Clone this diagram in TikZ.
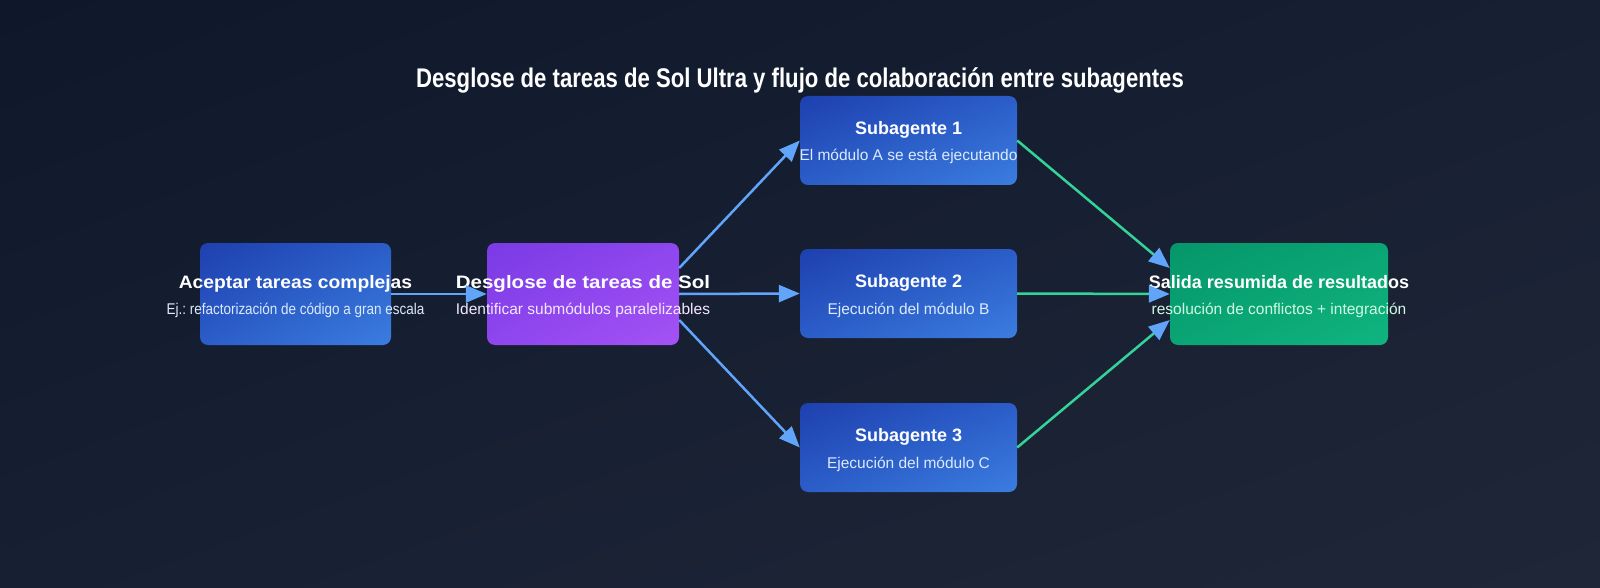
\documentclass[tikz,border=0pt]{standalone}
\usepackage{fontspec}
\setmainfont{Liberation Sans}
\newfontfamily\narrowfont{Liberation Sans}[FakeStretch=0.82]
\newfontfamily\semifont{Liberation Sans}[FakeStretch=0.87]
\newfontfamily\wideafont{Liberation Sans}[FakeStretch=1.07]
\newfontfamily\widebfont{Liberation Sans}[FakeStretch=1.14]
\usetikzlibrary{arrows.meta,shadings}
\frenchspacing

\definecolor{bgtl}{HTML}{0F172A}
\definecolor{bgmid}{HTML}{172033}
\definecolor{bgbr}{HTML}{1F2637}
\definecolor{bluetl}{HTML}{1E40AF}
\definecolor{bluemid}{HTML}{2B5DC8}
\definecolor{bluebr}{HTML}{3B7DE0}
\definecolor{purptl}{HTML}{7A3AE4}
\definecolor{purpmid}{HTML}{8E46EE}
\definecolor{purpbr}{HTML}{A452F4}
\definecolor{greentl}{HTML}{059669}
\definecolor{greenmid}{HTML}{0AA574}
\definecolor{greenbr}{HTML}{10B47E}
\definecolor{flowblue}{HTML}{60A5FA}
\definecolor{flowgreen}{HTML}{34D399}
\definecolor{subblue}{HTML}{DBEAFE}
\definecolor{subpurp}{HTML}{F3E8FF}
\definecolor{subgreen}{HTML}{D1FAE5}

\tikzset{
  card/.style={rounded corners=8pt, inner sep=0pt},
  bluecard/.style={card, upper left=bluetl, upper right=bluemid, lower left=bluemid, lower right=bluebr},
  purpcard/.style={card, upper left=purptl, upper right=purpmid, lower left=purpmid, lower right=purpbr},
  greencard/.style={card, upper left=greentl, upper right=greenmid, lower left=greenmid, lower right=greenbr},
  ttl/.style={anchor=base, text=white, font=\fontsize{18}{20}\selectfont\bfseries},
  sub/.style={anchor=base, text=subblue, font=\fontsize{15.5}{18}\selectfont},
  flow/.style={draw=flowblue, line width=2.5pt, -{Triangle[length=21pt,width=17pt]}},
  merge/.style={draw=flowgreen, line width=2.5pt, -{Triangle[length=21pt,width=17pt,color=flowblue]}}
}

\begin{document}
\begin{tikzpicture}[x=1pt, y=-1pt]
  \useasboundingbox (0,0) rectangle (1600,588);
  \shade[upper left=bgtl, upper right=bgmid, lower left=bgmid, lower right=bgbr] (0,0) rectangle (1600,588);

  \node[anchor=base, text=white, font=\fontsize{27}{30}\selectfont\narrowfont\bfseries] (title) at (800,88)
    {Desglose de tareas de Sol Ultra y flujo de colaboración entre subagentes};

  \node[bluecard, minimum width=191pt, minimum height=102pt] (task) at (295.5,294) {};
  \node[purpcard, minimum width=192pt, minimum height=102pt] (split) at (583,294) {};
  \node[bluecard, minimum width=217pt, minimum height=89pt] (agent1) at (908.5,140.5) {};
  \node[bluecard, minimum width=217pt, minimum height=89pt] (agent2) at (908.5,293.5) {};
  \node[bluecard, minimum width=217pt, minimum height=89pt] (agent3) at (908.5,447.5) {};
  \node[greencard, minimum width=218pt, minimum height=102pt] (result) at (1279,294) {};

  \node[ttl, font=\fontsize{18}{20}\selectfont\wideafont\bfseries] (taskT) at ([yshift=5.7pt]task.center) {Aceptar tareas complejas};
  \node[sub, font=\fontsize{15.5}{18}\selectfont\semifont] (taskS) at ([yshift=-20pt]task.center) {Ej.: refactorización de código a gran escala};
  \node[ttl, font=\fontsize{18}{20}\selectfont\widebfont\bfseries] (splitT) at ([yshift=5.7pt]split.center) {Desglose de tareas de Sol};
  \node[sub, text=subpurp] (splitS) at ([yshift=-20pt]split.center) {Identificar submódulos paralelizables};
  \node[ttl] (agent1T) at ([yshift=6pt]agent1.center) {Subagente 1};
  \node[sub] (agent1S) at ([yshift=-20.5pt]agent1.center) {El módulo A se está ejecutando};
  \node[ttl] (agent2T) at ([yshift=6pt]agent2.center) {Subagente 2};
  \node[sub] (agent2S) at ([yshift=-20.5pt]agent2.center) {Ejecución del módulo B};
  \node[ttl] (agent3T) at ([yshift=6pt]agent3.center) {Subagente 3};
  \node[sub] (agent3S) at ([yshift=-20.5pt]agent3.center) {Ejecución del módulo C};
  \node[ttl] (resultT) at ([yshift=5.7pt]result.center) {Salida resumida de resultados};
  \node[sub, text=subgreen] (resultS) at ([yshift=-20pt]result.center) {resolución de conflictos + integración};

  \draw[flow] (task.east) -- (split.west);
  \draw[flow] ([yshift=26pt]split.east) -- (agent1.west);
  \draw[flow] (split.east) -- (agent2.west);
  \draw[flow] ([yshift=-26pt]split.east) -- (agent3.west);
  \draw[merge] (agent1.east) -- ([yshift=26pt]result.west);
  \draw[merge] (agent2.east) -- (result.west);
  \draw[merge] (agent3.east) -- ([yshift=-26pt]result.west);
\end{tikzpicture}
\end{document}
